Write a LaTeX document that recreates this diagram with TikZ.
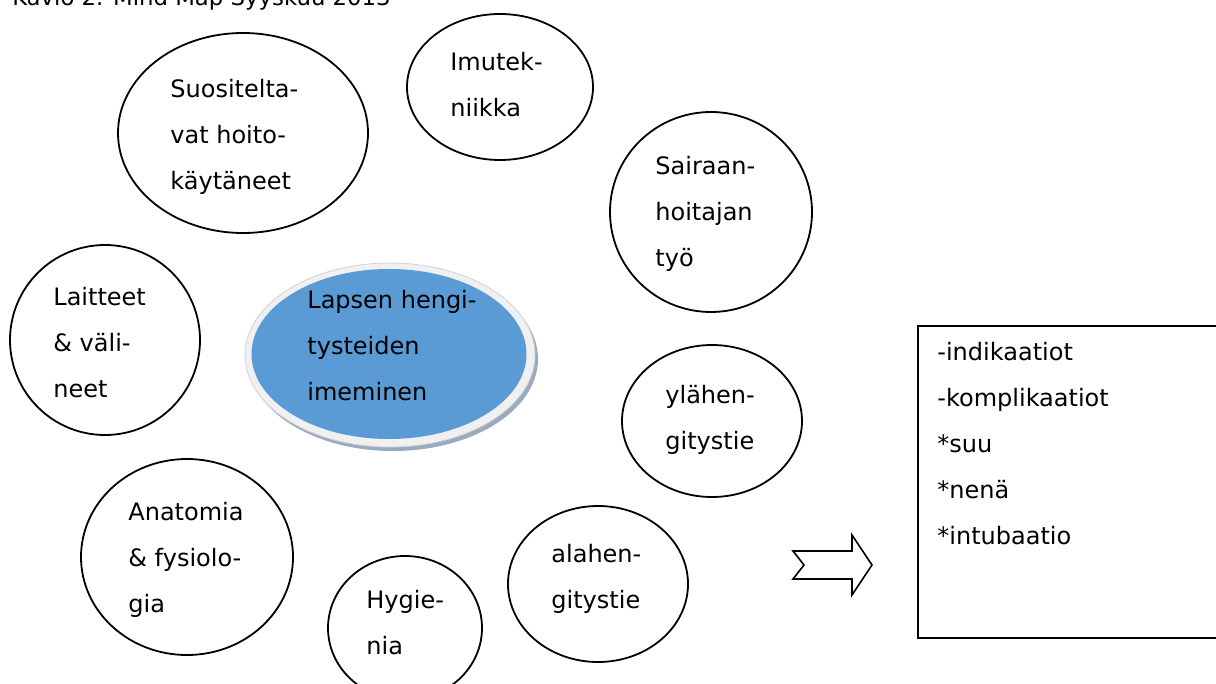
\documentclass[tikz,border=0pt]{standalone}
\usepackage{fontspec}
\setmainfont{DejaVu Sans}
\usepackage[HTML]{xcolor}
\usetikzlibrary{shapes.geometric}
\definecolor{hubblue}{HTML}{5B9BD5}
\definecolor{ringgray}{HTML}{F0F0F0}
\definecolor{shadowgray}{HTML}{9AAAC0}

\begin{document}
\begin{tikzpicture}[x=0.5pt,y=-0.5pt,
  bubble/.style={ellipse,draw,line width=0.9pt,inner sep=0pt},
  words/.style={anchor=north west,inner sep=0pt,align=left,font=\fontsize{12pt}{23pt}\selectfont}]
\useasboundingbox (0,0) rectangle (1216,684);

% --- caption (cut at the top) ---
\node[anchor=base west,inner sep=0pt,font=\fontsize{11.4pt}{14pt}\selectfont] (caption) at (12,6) {Kuvio 2. Mind Map Syyskuu 2013};

% --- centre ---
\node[ellipse,fill=shadowgray,minimum width=145pt,minimum height=92pt] (hubshadow) at (393,359) {};
\node[ellipse,fill=ringgray,draw=gray!35,line width=0.4pt,minimum width=145pt,minimum height=92pt] (hubring) at (390,355) {};
\node[ellipse,fill=hubblue,minimum width=137.5pt,minimum height=85pt] (hub) at (389,354) {};
\node[words] (hubtext) at (307,276) {\strut Lapsen hengi-\\tysteiden\\imeminen};

% --- bubbles ---
\node[bubble,minimum width=125pt,minimum height=100pt] (suos) at (243,133) {};
\node[words] (suostext) at (170,65) {\strut Suositelta-\\vat hoito-\\käytäneet};

\node[bubble,minimum width=93pt,minimum height=73pt] (imu) at (500,87) {};
\node[words] (imutext) at (450,38) {\strut Imutek-\\niikka};

\node[bubble,minimum width=101pt,minimum height=100pt] (sair) at (711,212) {};
\node[words] (sairtext) at (655,142) {\strut Sairaan-\\hoitajan\\työ};

\node[bubble,minimum width=95pt,minimum height=95pt] (lait) at (105,340) {};
\node[words] (laittext) at (53,273) {\strut Laitteet\\\& väli-\\neet};

\node[bubble,minimum width=90pt,minimum height=76pt] (yla) at (712,421) {};
\node[words] (ylatext) at (665,371) {\strut ylähen-\\gitystie};

\node[bubble,minimum width=106pt,minimum height=98pt] (anat) at (187,557) {};
\node[words] (anattext) at (128,488) {\strut Anatomia\\\& fysiolo-\\gia};

\node[bubble,minimum width=77pt,minimum height=72pt] (hyg) at (405,628) {};
\node[words] (hygtext) at (366,576) {\strut Hygie-\\nia};

\node[bubble,minimum width=90pt,minimum height=78pt] (ala) at (598,584) {};
\node[words] (alatext) at (551,530) {\strut alahen-\\gitystie};

% --- notched arrow and list ---
\draw[line width=0.8pt,line join=miter] (793,551) -- (852,551) -- (852,535) -- (872,565)
  -- (852,595) -- (852,579) -- (793,579) -- (804,565) -- cycle;
\node[draw,line width=0.9pt,anchor=north west,minimum width=160pt,minimum height=156pt] (list) at (917,325) {};
\node[words] (listtext) at (937,328) {\strut -indikaatiot\\-komplikaatiot\\*suu\\*nenä\\*intubaatio};
\end{tikzpicture}
\end{document}
